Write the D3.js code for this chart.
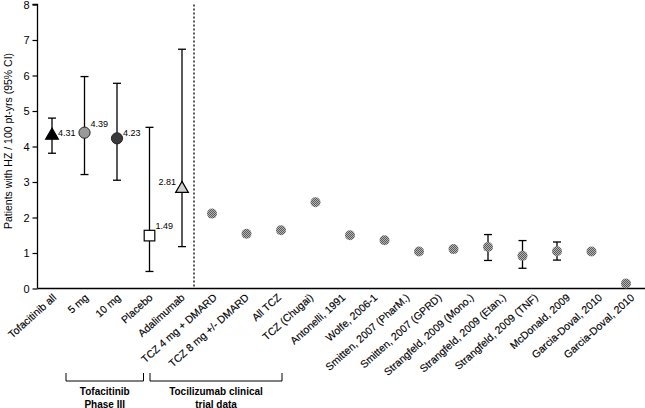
<!DOCTYPE html>
<html>
<head>
<meta charset="utf-8">
<script src="https://cdn.jsdelivr.net/npm/d3@7"></script>
<style>
  html, body { margin: 0; padding: 0; background: #fff; }
  svg { display: block; font-family: "Liberation Sans", Arial, Helvetica, sans-serif; }
</style>
</head>
<body>
<svg id="chart" width="645" height="408"></svg>
<script>
// ---- data ----
const categories = [
  "Tofacitinib all", "5 mg", "10 mg", "Placebo", "Adalimumab",
  "TCZ 4 mg + DMARD", "TCZ 8 mg +/- DMARD", "All TCZ", "TCZ (Chugai)",
  "Antonelli, 1991", "Wolfe, 2006-1", "Smitten, 2007 (PharM.)", "Smitten, 2007 (GPRD)",
  "Strangfeld, 2009 (Mono.)", "Strangfeld, 2009 (Etan.)", "Strangfeld, 2009 (TNF)",
  "McDonald, 2009", "Garcia-Doval, 2010", "Garcia-Doval, 2010"
];
const values = [4.31, 4.39, 4.23, 1.49, 2.81, 2.11, 1.54, 1.64, 2.43, 1.50, 1.36, 1.04, 1.11, 1.17, 0.92, 1.05, 1.04, 0.14, null];
const ciLow  = [3.81, 3.21, 3.05, 0.48, 1.18, null, null, null, null, null, null, null, null, 0.79, 0.57, 0.80, null, null, null];
const ciHigh = [4.80, 5.97, 5.78, 4.54, 6.74, null, null, null, null, null, null, null, null, 1.52, 1.35, 1.31, null, null, null];
const valueLabels = ["4.31", "4.39", "4.23", "1.49", "2.81"];
const markerTypes = ["triangle", "circle", "circle", "square", "triangle"]; // rest: textured dot
const groupNames = [["Tofacitinib", "Phase III"], ["Tocilizumab clinical", "trial data"]];
const yTicks = [0, 1, 2, 3, 4, 5, 6, 7, 8];
const yTitle = "Patients with HZ / 100 pt-yrs  (95% CI)";

// ---- layout ----
const svg = d3.select("#chart");
const axisX = 37.5, y0 = 288.5, yTop = 4.5;
const y = d3.scaleLinear().domain([0, 8]).range([y0, yTop]);

const idx = d3.range(categories.length);
const leftIdx = idx.slice(0, 5);
const rightIdx = idx.slice(5, 18);
const xLeft = d3.scalePoint().domain(leftIdx).range([52, 182]);
const xRight = d3.scalePoint().domain(rightIdx).range([212, 626]);
const xPoint = i => (i < 5 ? xLeft(i) : xRight(i));
const xLabel = d3.scalePoint().domain(idx).range([55, 633]);

// textured pattern
const defs = svg.append("defs");
const pat = defs.append("pattern").attr("id", "halftone")
  .attr("width", 2).attr("height", 2).attr("patternUnits", "userSpaceOnUse");
pat.append("rect").attr("width", 2).attr("height", 2).attr("fill", "#b4b4b4");
pat.append("rect").attr("width", 1).attr("height", 1).attr("fill", "#5a5a5a");
pat.append("rect").attr("x", 1).attr("y", 1).attr("width", 1).attr("height", 1).attr("fill", "#5a5a5a");

// y axis
const yAxis = d3.axisLeft(y).tickValues(yTicks).tickSize(5).tickPadding(3).tickFormat(d3.format("d"));
const gy = svg.append("g").attr("transform", `translate(${axisX},0)`).call(yAxis);
gy.select(".domain").attr("stroke", "#000").attr("stroke-width", 1.3).attr("d", `M-5,${yTop}H0V${y0}`);
gy.selectAll(".tick line").attr("stroke", "#000").attr("stroke-width", 1.2);
gy.selectAll(".tick text").attr("font-size", 11).attr("fill", "#000")
  .attr("font-family", "'Liberation Sans', Arial, sans-serif");

// y title
svg.append("text")
  .attr("transform", `translate(12,${141}) rotate(-90)`)
  .attr("text-anchor", "middle").attr("font-size", 10.5).attr("fill", "#000")
  .text(yTitle);

// x axis line
svg.append("line").attr("x1", axisX).attr("x2", 645).attr("y1", y0).attr("y2", y0)
  .attr("stroke", "#000").attr("stroke-width", 1.5);

// dashed separator
const sepX = (xLeft(4) + xRight(5)) / 2 - 3;
svg.append("line").attr("x1", sepX).attr("x2", sepX).attr("y1", yTop).attr("y2", y0)
  .attr("stroke", "#000").attr("stroke-width", 1.3).attr("stroke-dasharray", "2,2");

// category labels
svg.append("g").selectAll("text").data(idx).join("text")
  .attr("transform", i => `translate(${xLabel(i) + 2},${y0 + 10}) rotate(-42)`)
  .attr("text-anchor", "end").attr("font-size", 10.5).attr("fill", "#000")
  .attr("stroke", "#000").attr("stroke-width", 0.15)
  .text(i => categories[i]);

// error bars
const eb = idx.filter(i => ciLow[i] != null);
const gEb = svg.append("g").attr("stroke", "#000").attr("stroke-width", 1.3).attr("fill", "none");
eb.forEach(i => {
  const x = xPoint(i);
  gEb.append("line").attr("x1", x).attr("x2", x).attr("y1", y(ciLow[i])).attr("y2", y(ciHigh[i]));
  gEb.append("line").attr("x1", x - 4).attr("x2", x + 4).attr("y1", y(ciLow[i])).attr("y2", y(ciLow[i]));
  gEb.append("line").attr("x1", x - 4).attr("x2", x + 4).attr("y1", y(ciHigh[i])).attr("y2", y(ciHigh[i]));
});

// markers
const gm = svg.append("g");
idx.forEach(i => {
  if (values[i] == null) return;
  const x = xPoint(i), yy = y(values[i]);
  const t = markerTypes[i];
  if (t === "triangle") {
    const fill = i === 0 ? "#000" : "#cfcfcf";
    gm.append("path").attr("d", d3.symbol(d3.symbolTriangle, 70)())
      .attr("transform", `translate(${x},${yy})`)
      .attr("fill", fill).attr("stroke", "#000").attr("stroke-width", 1.2);
  } else if (t === "circle") {
    const fill = i === 1 ? "#9a9a9a" : "#3a3a3a";
    gm.append("circle").attr("cx", x).attr("cy", yy).attr("r", 5.6)
      .attr("fill", fill).attr("stroke", "#222").attr("stroke-width", 1);
  } else if (t === "square") {
    gm.append("rect").attr("x", x - 5.3).attr("y", yy - 5.3).attr("width", 10.6).attr("height", 10.6)
      .attr("fill", "#fff").attr("stroke", "#000").attr("stroke-width", 1.2);
  } else {
    gm.append("circle").attr("cx", x).attr("cy", yy).attr("r", 5)
      .attr("fill", "url(#halftone)");
  }
});

// value labels
const labelOffsets = [[6, 1], [6, -6], [6, -2], [6, -7], [-6, -4]];
valueLabels.forEach((s, i) => {
  const [dx, dy] = labelOffsets[i];
  svg.append("text")
    .attr("x", xPoint(i) + dx).attr("y", y(values[i]) + dy)
    .attr("text-anchor", dx < 0 ? "end" : "start")
    .attr("font-size", 9).attr("fill", "#000").text(s);
});

// group brackets
const gb = svg.append("g");
groupNames.forEach((names, g) => {
  const x1 = (g === 0 ? 66 : 150), x2 = (g === 0 ? 143.5 : 282);
  const top = 373, bot = 381;
  gb.append("path").attr("d", `M${x1},${top}V${bot}H${x2}V${top}`)
    .attr("fill", "none").attr("stroke", "#000").attr("stroke-width", 1);
  const cx = (x1 + x2) / 2;
  names.forEach((line, k) => {
    gb.append("text").attr("x", cx).attr("y", 395 + k * 12.5)
      .attr("text-anchor", "middle").attr("font-size", 10).attr("font-weight", "bold")
      .attr("fill", "#000").text(line);
  });
});
</script>
</body>
</html>
